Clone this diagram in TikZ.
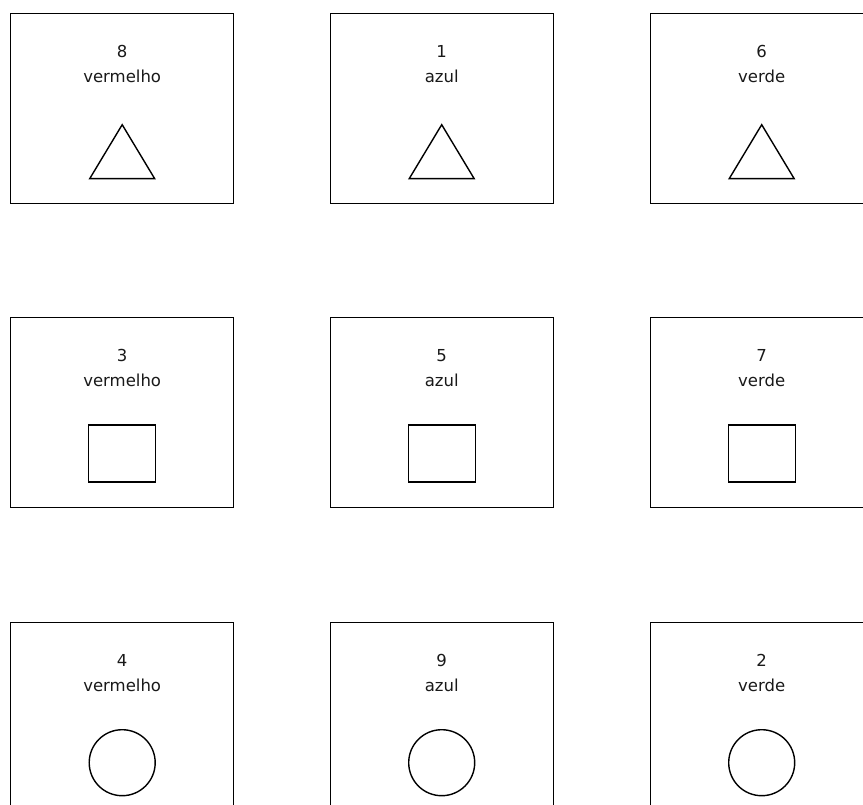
\documentclass[tikz,border=0pt]{standalone}
\usepackage{fontspec}
\setmainfont{DejaVu Sans}
\usetikzlibrary{calc}
\begin{document}
\begin{tikzpicture}[x=1pt,y=-1pt,
  box/.style={draw, line width=1.4pt, minimum width=223pt, minimum height=190pt, inner sep=0pt, anchor=north west},
  lbl/.style={font=\fontsize{16.5}{19}\selectfont, anchor=base, inner sep=0pt, text=black!90},
  shp/.style={draw, line width=1.4pt, inner sep=0pt}]
\useasboundingbox (0,0) rectangle (863,805);
\clip (0,0) rectangle (863,805);
% row 1: triangles
\foreach \c/\x/\n/\w in {1/10/8/vermelho, 2/329.5/1/azul, 3/649.5/6/verde} {
  \node[box] (b1\c) at (\x,12.7) {};
  \node[lbl] (n1\c) at ($(b1\c.north)+(0,45)$) {\n};
  \node[lbl] (w1\c) at ($(b1\c.north)+(0,70)$) {\w};
  \draw[shp] ($(b1\c.north)+(0,112)$) -- ($(b1\c.north)+(-32.5,166)$) -- ($(b1\c.north)+(32.5,166)$) -- cycle;
}
% row 2: squares
\foreach \c/\x/\n/\w in {1/10/3/vermelho, 2/329.5/5/azul, 3/649.5/7/verde} {
  \node[box] (b2\c) at (\x,317) {};
  \node[lbl] (n2\c) at ($(b2\c.north)+(0,45)$) {\n};
  \node[lbl] (w2\c) at ($(b2\c.north)+(0,70)$) {\w};
  \node[shp, minimum width=67pt, minimum height=57pt] (s2\c) at ($(b2\c.north)+(0,136.5)$) {};
}
% row 3: circles
\foreach \c/\x/\n/\w in {1/10/4/vermelho, 2/329.5/9/azul, 3/649.5/2/verde} {
  \node[box] (b3\c) at (\x,621.7) {};
  \node[lbl] (n3\c) at ($(b3\c.north)+(0,45)$) {\n};
  \node[lbl] (w3\c) at ($(b3\c.north)+(0,70)$) {\w};
  \node[shp, circle, minimum size=66pt] (s3\c) at ($(b3\c.north)+(0,141)$) {};
}
\end{tikzpicture}
\end{document}
